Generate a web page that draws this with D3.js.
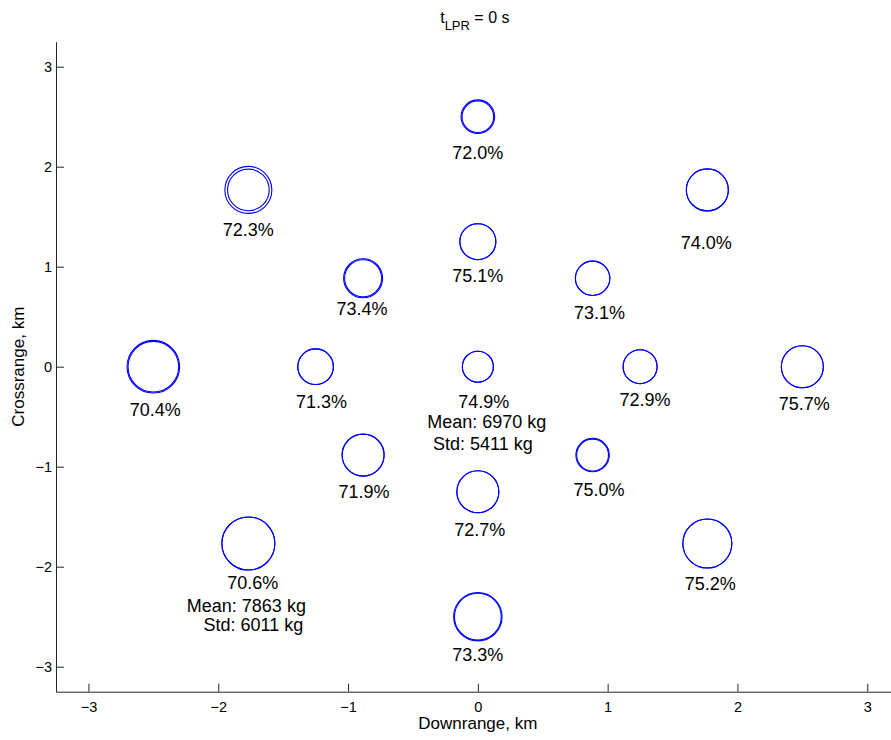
<!DOCTYPE html>
<html>
<head>
<meta charset="utf-8">
<script src="https://cdn.jsdelivr.net/npm/d3@7/dist/d3.min.js"></script>
<style>
  html, body { margin: 0; padding: 0; background: #fff; }
  svg { display: block; font-family: "Liberation Sans", Arial, Helvetica, sans-serif; }
</style>
</head>
<body>
<svg id="chart" width="891" height="740"></svg>
<script>
// Aim points (downrange / crossrange, km)
const downrange  = [0, -1.768, 1.768, 0, -0.884, 0.884, -2.5, -1.25, 0, 1.25, 2.5, -0.884, 0.884, 0, -1.768, 1.768, 0];
const crossrange = [2.5, 1.768, 1.768, 1.25, 0.884, 0.884, 0, 0, 0, 0, 0, -0.884, -0.884, -1.25, -1.768, -1.768, -2.5];
// Dispersion ring radii (km), outer and inner
const ringOuter = [0.168, 0.235, 0.21, 0.18, 0.195, 0.172, 0.263, 0.178, 0.155, 0.17, 0.21, 0.21, 0.167, 0.21, 0.265, 0.245, 0.242];
const ringInner = [0.158, 0.208, 0.21, 0.18, 0.185, 0.172, 0.253, 0.178, 0.155, 0.17, 0.21, 0.21, 0.159, 0.21, 0.265, 0.245, 0.234];
// Success rate at each aim point
const successPct = ["72.0%", "72.3%", "74.0%", "75.1%", "73.4%", "73.1%", "70.4%", "71.3%", "74.9%", "72.9%", "75.7%", "71.9%", "75.0%", "72.7%", "70.6%", "75.2%", "73.3%"];
// Mass statistics for two of the aim points
const statPoint = [8, 14];
const statMean  = ["Mean: 6970 kg", "Mean: 7863 kg"];
const statStd   = ["Std: 5411 kg", "Std: 6011 kg"];
// Axis ticks
const xTicks = [-3, -2, -1, 0, 1, 2, 3];
const yTicks = [-3, -2, -1, 0, 1, 2, 3];

// Label placement (pixel offsets from each ring centre)
const labelDx = [0, 0, -1, 0, -1, 7, 2, 6, 6, 5, 2, 1, 6.5, 2, 4.5, 3, 0];
const labelDy = [35.5, 40, 53, 34, 30, 34, 43, 35, 35, 33, 37, 36.6, 35, 37.6, 39, 40, 38];
const statDx = [[9, 5], [-2, 5]];
const statDy = [[55, 76.6], [62.5, 81.5]];

const svg = d3.select("#chart");
const x = d3.scaleLinear().domain([-3.25, 3.25]).range([56, 899.7]);
const y = d3.scaleLinear().domain([-3.25, 3.25]).range([691.7, 41.7]);
const kmToPx = v => y(0) - y(v);
const fmt = d3.format("d");

const axisColor = "#262626";

// x axis (ticks point inward)
const gx = svg.append("g").attr("transform", `translate(0,${y(-3.25)})`)
  .call(d3.axisBottom(x).tickValues(xTicks).tickFormat(fmt).tickSizeInner(-8).tickSizeOuter(0).tickPadding(8));
// y axis
const gy = svg.append("g").attr("transform", `translate(${x(-3.25)},0)`)
  .call(d3.axisLeft(y).tickValues(yTicks).tickFormat(fmt).tickSizeInner(-8).tickSizeOuter(0).tickPadding(4));

[gx, gy].forEach(g => {
  g.select(".domain").attr("stroke", axisColor).attr("stroke-width", 1);
  g.selectAll(".tick line").attr("stroke", axisColor).attr("stroke-width", 1);
  g.selectAll(".tick text").attr("fill", "#000").style("font-size", "14.5px")
    .style("font-family", "'Liberation Sans', Arial, sans-serif");
});
gx.selectAll(".tick text").attr("dy", "0.85em");
gy.selectAll(".tick text").attr("dy", "0.35em");

// rings
const idx = d3.range(downrange.length);
const rings = svg.append("g").attr("fill", "none").attr("stroke", "#0000ff").attr("stroke-width", 1.1);
rings.selectAll("circle.outer").data(idx).join("circle").attr("class", "outer")
  .attr("cx", i => x(downrange[i])).attr("cy", i => y(crossrange[i])).attr("r", i => kmToPx(ringOuter[i]));
rings.selectAll("circle.inner").data(idx).join("circle").attr("class", "inner")
  .attr("cx", i => x(downrange[i])).attr("cy", i => y(crossrange[i])).attr("r", i => kmToPx(ringInner[i]));

// percentage labels
const labels = svg.append("g").attr("fill", "#000").attr("text-anchor", "middle")
  .style("font-size", "18px");
labels.selectAll("text.pct").data(idx).join("text").attr("class", "pct")
  .attr("x", i => x(downrange[i]) + labelDx[i])
  .attr("y", i => y(crossrange[i]) + labelDy[i])
  .attr("dy", "0.35em")
  .text(i => successPct[i]);

statPoint.forEach((p, k) => {
  labels.append("text")
    .attr("x", x(downrange[p]) + statDx[k][0]).attr("y", y(crossrange[p]) + statDy[k][0])
    .attr("dy", "0.35em").text(statMean[k]);
  labels.append("text")
    .attr("x", x(downrange[p]) + statDx[k][1]).attr("y", y(crossrange[p]) + statDy[k][1])
    .attr("dy", "0.35em").text(statStd[k]);
});

// axis titles
svg.append("text").attr("x", x(0)).attr("y", 729).attr("text-anchor", "middle")
  .style("font-size", "17px").text("Downrange, km");
svg.append("text").attr("transform", `translate(24,${y(0)}) rotate(-90)`).attr("text-anchor", "middle")
  .style("font-size", "17px").text("Crossrange, km");

// plot title with subscript
const title = svg.append("text").attr("x", x(0) - 3).attr("y", 23).attr("text-anchor", "middle")
  .style("font-size", "16px");
title.append("tspan").text("t");
title.append("tspan").attr("dy", 7).style("font-size", "13px").text("LPR");
title.append("tspan").attr("dy", -7).text(" = 0 s");
</script>
</body>
</html>
